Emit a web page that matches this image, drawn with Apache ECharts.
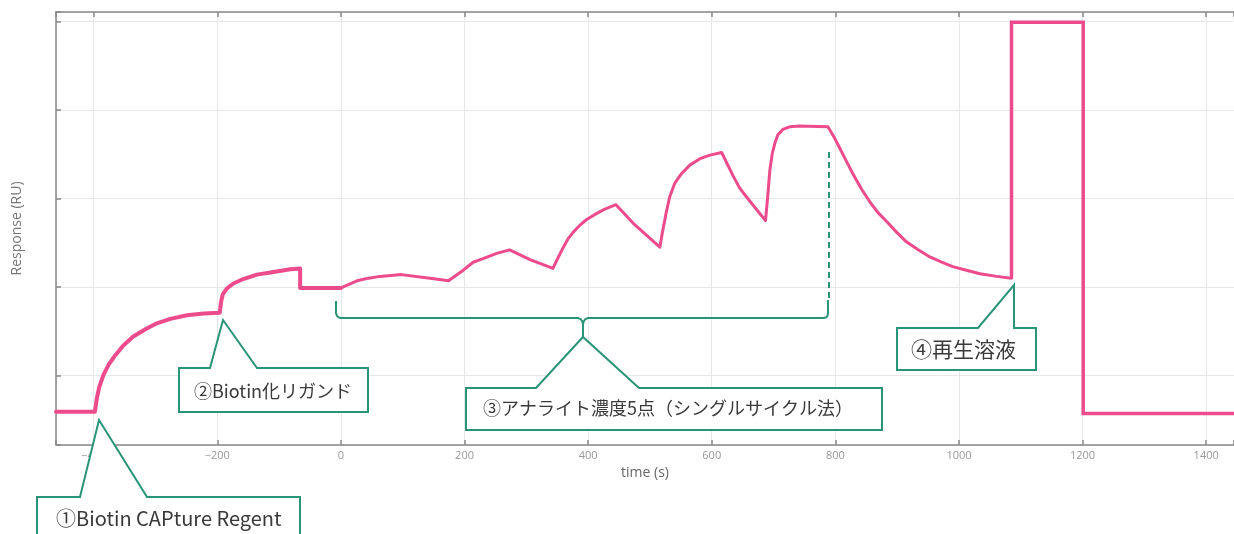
<!DOCTYPE html>
<html>
<head>
<meta charset="utf-8">
<style>
  html, body { margin: 0; padding: 0; background: #fff; }
  #sensorgram { width: 1234px; height: 534px; }
</style>
</head>
<body>
<div id="sensorgram"></div>
<script src="https://cdn.jsdelivr.net/npm/echarts@6.0.0/dist/echarts.min.js"></script>
<script type="text/javascript">
    // ①② capture + biotinylated ligand
    var timeA = [-461, -398, -395, -391, -384, -376, -365, -352, -336, -317, -298, -276, -249, -222, -196,
                 -194, -191, -185, -174, -158, -136, -109, -82, -66, -66, 0];
    var ruA   = [59, 59, 74, 87, 101, 112, 123, 134, 144, 152, 159, 164, 168, 170, 171,
                 183, 192, 198, 204, 209, 214, 217, 220, 221, 199, 199];
    // ③ analyte, 5 concentrations (single cycle)
    var timeB = [0, 26, 45, 63, 98, 144, 174, 198, 214, 230, 252, 273, 306, 343,
                 352, 360, 368, 376, 387, 397, 411, 427, 445, 473, 516,
                 520, 526, 532, 540, 551, 565, 581, 597, 616, 635, 645, 656, 687,
                 691, 694, 698, 702, 707, 715, 726, 743, 788,
                 799, 807, 818, 829, 842, 856, 869, 883, 899, 915, 934, 953, 972, 990, 1012, 1034, 1061, 1085];
    var ruB   = [199, 207, 210, 212, 214, 210, 207, 219, 228, 232, 238, 242, 231, 221,
                 234, 245, 255, 262, 270, 276, 282, 288, 293, 272, 245,
                 261, 283, 302, 317, 328, 338, 345, 349, 352, 325, 312, 302, 275,
                 306, 332, 351, 362, 372, 378, 381, 382, 381,
                 368, 357, 342, 327, 311, 296, 284, 274, 262, 251, 242, 234, 228, 223, 219, 215, 212, 210];
    // ④ regeneration
    var timeC = [1085, 1085, 1201, 1201, 1445];
    var ruC   = [210, 499, 499, 57, 57];

    var xTicks = [-400, -200, 0, 200, 400, 600, 800, 1000, 1200, 1400];

    function pairs(t, v) {
        var out = [];
        for (var i = 0; i < t.length; i++) out.push([t[i], v[i]]);
        return out;
    }

    var pink = '#ec4b8c';
    var teal = '#2a9478';
    var boxStyle = {fill: '#fff', stroke: teal, lineWidth: 2};
    var lineOnly = {fill: null, stroke: teal, lineWidth: 2};
    var txtColor = '#3a3a3a';
    var jp = '"Noto Sans CJK JP"';

    var myChart = echarts.init(document.getElementById('sensorgram'));
    var option = {
        animation: false,
        backgroundColor: '#fff',
        grid: {left: 56, top: 12, right: 0, bottom: 89, containLabel: false, outerBoundsMode: 'none'},
        xAxis: [
            {
                type: 'value', min: -461, max: 1445, splitNumber: 10,
                name: 'time (s)', nameLocation: 'middle', nameGap: 17,
                nameTextStyle: {color: '#666', fontSize: 14, fontFamily: 'Open Sans'},
                axisLine: {onZero: false, lineStyle: {color: '#888', width: 1.5}},
                axisTick: {inside: true, length: 5, lineStyle: {color: '#888', width: 1.5}},
                axisLabel: {
                    margin: 5, color: '#999', fontSize: 11, fontFamily: 'Open Sans',
                    formatter: function (v) {
                        return xTicks.indexOf(v) >= 0 ? String(v).replace('-', '\u2212') : '';
                    }
                },
                splitLine: {lineStyle: {color: '#e8e8e8'}}
            },
            {
                type: 'value', position: 'top', min: -461, max: 1445, splitNumber: 10,
                axisLine: {onZero: false, lineStyle: {color: '#888', width: 1.5}},
                axisTick: {inside: true, length: 5, lineStyle: {color: '#888', width: 1.5}},
                axisLabel: {show: false},
                splitLine: {show: false}
            }
        ],
        yAxis: {
            type: 'value', min: 21.5, max: 510.7, splitNumber: 5,
            name: 'Response (RU)', nameLocation: 'middle', nameGap: 32,
            nameTextStyle: {color: '#777', fontSize: 14, fontFamily: 'Open Sans'},
            axisLine: {show: true, onZero: false, lineStyle: {color: '#888', width: 1.5}},
            axisTick: {show: true, inside: true, length: 5, lineStyle: {color: '#888', width: 1.5}},
            axisLabel: {show: false},
            splitLine: {lineStyle: {color: '#e8e8e8'}}
        },
        series: [
            {
                name: 'capture', type: 'line', showSymbol: false, data: pairs(timeA, ruA),
                lineStyle: {color: pink, width: 4, join: 'round', cap: 'round'}, z: 5
            },
            {
                name: 'analyte', type: 'line', showSymbol: false, data: pairs(timeB, ruB),
                lineStyle: {color: pink, width: 3, join: 'round', cap: 'round'}, z: 5
            },
            {
                name: 'regeneration', type: 'line', showSymbol: false, data: pairs(timeC, ruC),
                lineStyle: {color: pink, width: 3.5, join: 'miter'}, z: 5
            }
        ],
        graphic: [
            // ①
            {type: 'polygon', z: 100, shape: {points: [[37, 497], [80, 497], [99, 420], [147, 497], [300, 497], [300, 545], [37, 545]]}, style: boxStyle},
            {type: 'text', z: 101, x: 56, y: 518, style: {text: '①Biotin CAPture Regent', font: '20px ' + jp, fill: txtColor, verticalAlign: 'middle'}},
            // ②
            {type: 'polygon', z: 100, shape: {points: [[179, 368], [210, 368], [223, 320], [257, 368], [368, 368], [368, 412], [179, 412]]}, style: boxStyle},
            {type: 'text', z: 101, x: 194, y: 391, style: {text: '②Biotin化リガンド', font: '18px ' + jp, fill: txtColor, verticalAlign: 'middle'}},
            // ③ brace + dashed marker
            {type: 'polyline', z: 100, shape: {points: [[336, 301], [336, 313], [337, 316], [339, 317.5], [341, 318], [578, 318], [580.5, 319], [582, 321], [583, 324], [583, 337]]}, style: lineOnly},
            {type: 'polyline', z: 100, shape: {points: [[583, 324], [584, 321], [585.5, 319], [588, 318], [823, 318], [826, 317.5], [827.5, 316], [828, 313], [828, 300]]}, style: lineOnly},
            {type: 'line', z: 100, shape: {x1: 829, y1: 152, x2: 829, y2: 300}, style: {stroke: teal, lineWidth: 2, lineDash: [6, 4]}},
            {type: 'polygon', z: 100, shape: {points: [[466, 388], [536, 388], [583, 337], [639, 388], [882, 388], [882, 430], [466, 430]]}, style: boxStyle},
            {type: 'text', z: 101, x: 483, y: 408, style: {text: '③アナライト濃度5点（シングルサイクル法）', font: '18px ' + jp, fill: txtColor, verticalAlign: 'middle'}},
            // ④
            {type: 'polygon', z: 100, shape: {points: [[897, 328], [978, 328], [1014, 285], [1014, 328], [1036, 328], [1036, 370], [897, 370]]}, style: boxStyle},
            {type: 'text', z: 101, x: 911, y: 349, style: {text: '④再生溶液', font: '21px ' + jp, fill: txtColor, verticalAlign: 'middle'}}
        ]
    };
    myChart.setOption(option);
</script>
</body>
</html>
